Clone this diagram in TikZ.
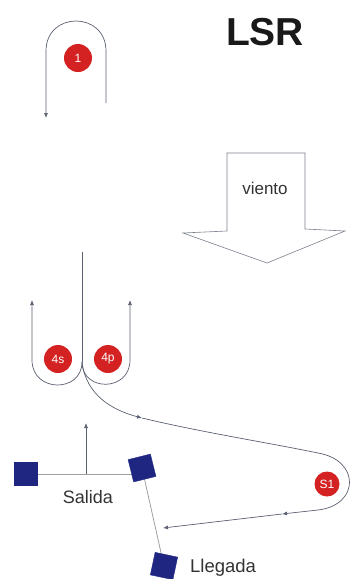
\documentclass[tikz,border=0pt]{standalone}
\usepackage{fontspec}
\setmainfont{Liberation Sans}
\usetikzlibrary{arrows.meta,backgrounds}
\definecolor{course}{HTML}{5A6070}
\definecolor{buoyred}{HTML}{D42222}
\definecolor{navy}{HTML}{1E2682}
\definecolor{lightline}{HTML}{A0A0A0}
\definecolor{txt}{HTML}{333333}
\tikzset{
  track/.style={draw=course, line width=0.7pt},
  tip/.style={-{Latex[length=5pt,width=4pt]}},
  buoy/.style={circle, fill=buoyred, text=white, inner sep=0pt, minimum size=28pt, font=\fontsize{12}{13}\selectfont},
  smallbuoy/.style={buoy, minimum size=25pt},
  flag/.style={draw=navy, fill=navy, minimum size=23pt, inner sep=0pt},
  gateline/.style={draw=lightline, line width=0.8pt},
  label/.style={text=txt, font=\fontsize{18}{20}\selectfont, inner sep=0pt}
}
\begin{document}
\begin{tikzpicture}[x=1pt,y=-1pt]
\useasboundingbox (0,0) rectangle (351,579);
% title
\node[font=\bfseries\fontsize{39}{40}\selectfont, text=black!90, inner sep=0pt] (title) at (265,32) {LSR};
% wind arrow
\draw[draw=course!80, line width=0.6pt, fill=white] (227,153) -- (305,153) -- (305,229) -- (345,231) -- (267,263) -- (183,233) -- (227,231) -- cycle;
\node[label, font=\fontsize{17}{20}\selectfont] (wind) at (265,188) {viento};
% buoy 1 loop
\coordinate (l1s) at (106,103);
\coordinate (l1e) at (46,118);
\draw[track, tip] (l1s) -- (106,51) .. controls (106,11) and (46,11) .. (46,51) -- (l1e);
\node[buoy] (b1) at (78,58) {1};
% gate 4s / 4p
\coordinate (gtop) at (82,252);
\coordinate (gbot) at (82,362);
\coordinate (g4s) at (32,300);
\coordinate (g4p) at (130,300);
\draw[track] (gtop) -- (gbot);
\draw[track, tip] (gbot) .. controls (82,393) and (32,393) .. (32,360) -- (g4s);
\draw[track, tip] (gbot) .. controls (82,392) and (130,392) .. (130,360) -- (g4p);
\node[buoy] (b4s) at (58,359) {4s};
\node[buoy] (b4p) at (108,359) {4p};
% leg to S1 and back
\coordinate (m1) at (142,418);
\coordinate (s1a) at (318,453);
\coordinate (s1b) at (318,510);
\coordinate (m2) at (282,514);
\coordinate (fin) at (163,528);
\draw[track, tip] (gbot) .. controls (86,395) and (112,410) .. (m1);
\draw[track] (m1) .. controls (200,432) and (270,443) .. (s1a) .. controls (360,460) and (360,505) .. (s1b);
\draw[track, tip] (s1b) -- (m2);
\draw[track, tip] (m2) -- (fin);
\node[smallbuoy] (bs1) at (327,484) {S1};
% start and finish
\node[flag] (sa) at (26,474) {};
\node[flag, rotate=14] (sb) at (142,468) {};
\node[flag, rotate=-12] (fa) at (164,566) {};
\coordinate (up) at (86,423);
\begin{scope}[on background layer]
  \draw[gateline] (sa) -- (sa -| sb);
  \draw[gateline] (sb) -- (fa);
\end{scope}
\draw[track, tip] (sa -| up) -- (up);
\node[label] (salida) at (88,497) {Salida};
\node[label, anchor=west, font=\fontsize{18.5}{20}\selectfont] (llegada) at (190,568) {Llegada};
\end{tikzpicture}
\end{document}
